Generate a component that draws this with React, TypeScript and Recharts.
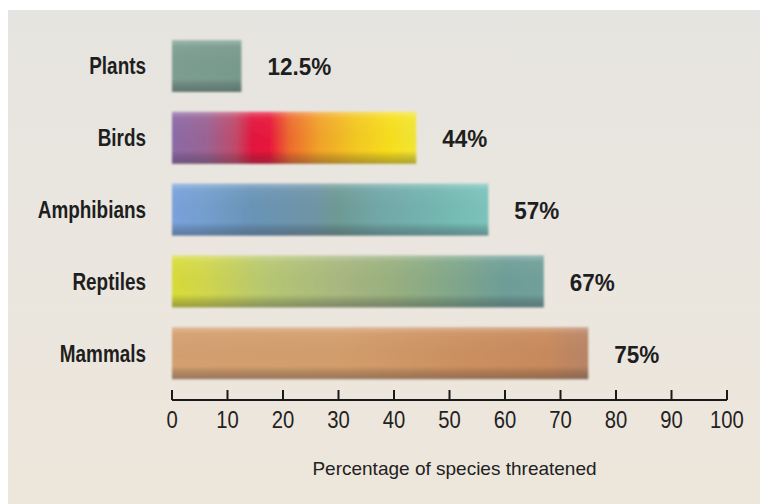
import React from 'react';
import { BarChart, Bar, XAxis, YAxis, Cell, LabelList, Label } from 'recharts';

const categories = ['Plants', 'Birds', 'Amphibians', 'Reptiles', 'Mammals'];
const threatened = [12.5, 44, 57, 67, 75];
const valueLabels = ['12.5%', '44%', '57%', '67%', '75%'];
const xTicks = [0, 10, 20, 30, 40, 50, 60, 70, 80, 90, 100];
const axisTitle = 'Percentage of species threatened';

const data = categories.map((name, i) => ({ name, value: threatened[i], label: valueLabels[i] }));

// horizontal colour ramps, one per bar
const ramps: [number, string][][] = [
    [[0, '#7e9e92'], [100, '#789a8d']],
    [[0, '#8c6aa8'], [14, '#9a6494'], [26, '#c24a6a'], [33, '#e4163e'], [40, '#e8183c'], [48, '#ee6a2e'], [60, '#f2a22a'], [75, '#f4c822'], [90, '#f8e01e'], [100, '#f2e634']],
    [[0, '#7aa2dc'], [10, '#74a0d0'], [25, '#6a94b8'], [45, '#6f95a6'], [52, '#6e9a95'], [65, '#72a8a8'], [85, '#74b8b2'], [100, '#7cc4bc']],
    [[0, '#d8dc38'], [8, '#d2d84a'], [25, '#b8c872'], [45, '#a8b880'], [60, '#98b080'], [75, '#82a88a'], [90, '#6e9e98'], [100, '#72a09c']],
    [[0, '#d4a070'], [40, '#d39e6c'], [70, '#cd9060'], [90, '#c88a5c'], [100, '#b88466']],
];

const sans = "'Liberation Sans', Arial, sans-serif";

const GlossyBar = (props: any) => {
    const { x, y, width, height, fill } = props;
    if (!width || width <= 0) return null;
    return (
        <g filter="url(#soft)">
            <rect x={x} y={y} width={width} height={height} fill={fill} />
            <rect x={x} y={y} width={width} height={height} fill="url(#shade)" />
        </g>
    );
};

const ValueLabel = (props: any) => {
    const vb = props.viewBox || props;
    const { x, y, width, height } = vb;
    return (
        <text
            transform={`translate(${x + width + 26},${y + height / 2 + 1}) scale(1,1.08)`}
            dominantBaseline="central"
            fill="#1e1e1e"
            fontSize={22.5}
            fontWeight={700}
            fontFamily={sans}
        >
            {props.value}
        </text>
    );
};

// squeezed text to mimic the condensed face of the original
const YTick = (props: any) => {
    const { x, y, payload } = props;
    return (
        <text
            transform={`translate(${x},${y}) scale(0.86,1.12)`}
            textAnchor="end"
            dominantBaseline="central"
            fill="#1e1e1e"
            fontSize={22}
            fontWeight={700}
            fontFamily={sans}
        >
            {payload.value}
        </text>
    );
};

const XTick = (props: any) => {
    const { x, y, payload } = props;
    return (
        <g>
            <line x1={x} x2={x} y1={y - 10} y2={y} stroke="#1a1a1a" strokeWidth={2} />
            <text
                transform={`translate(${x},${y + 20}) scale(0.92,1.05)`}
                textAnchor="middle"
                dominantBaseline="central"
                fill="#222"
                fontSize={22}
                fontFamily={sans}
            >
                {payload.value}
            </text>
        </g>
    );
};

const App: React.FC = () => {
    return (
        <div style={{ position: 'fixed', left: 0, top: 0, width: 760, height: 504, background: '#fff', overflow: 'hidden' }}>
            <div
                style={{
                    position: 'absolute',
                    left: 8,
                    top: 10,
                    width: 752,
                    height: 494,
                    background: 'linear-gradient(180deg, #e6e4e0 0%, #eae6df 45%, #ede6db 100%)',
                }}
            />
            <div style={{ position: 'absolute', left: 0, top: 0 }}>
                <BarChart
                    width={760}
                    height={504}
                    data={data}
                    layout="vertical"
                    margin={{ top: 30, right: 33, bottom: 74, left: 0 }}
                >
                    <defs>
                        {ramps.map((stops, i) => (
                            <linearGradient key={i} id={`ramp${i}`} x1="0" y1="0" x2="1" y2="0">
                                {stops.map(([o, c], j) => (
                                    <stop key={j} offset={`${o}%`} stopColor={c} />
                                ))}
                            </linearGradient>
                        ))}
                        <linearGradient id="shade" x1="0" y1="0" x2="0" y2="1">
                            <stop offset="0%" stopColor="#ffffff" stopOpacity={0.3} />
                            <stop offset="12%" stopColor="#ffffff" stopOpacity={0.05} />
                            <stop offset="75%" stopColor="#000000" stopOpacity={0} />
                            <stop offset="100%" stopColor="#3a3a44" stopOpacity={0.38} />
                        </linearGradient>
                        <filter id="soft" x="-5%" y="-10%" width="110%" height="120%">
                            <feGaussianBlur stdDeviation="1" />
                        </filter>
                    </defs>
                    <XAxis
                        type="number"
                        domain={[0, 100]}
                        ticks={xTicks}
                        interval={0}
                        height={30}
                        tickSize={0}
                        tickMargin={0}
                        tickLine={false}
                        axisLine={{ stroke: '#1a1a1a', strokeWidth: 2 }}
                        tick={<XTick />}
                    >
                        <Label
                            value={axisTitle}
                            position="bottom"
                            offset={32}
                            dx={5}
                            fill="#222"
                            fontSize={19}
                            fontFamily={sans}
                        />
                    </XAxis>
                    <YAxis
                        type="category"
                        dataKey="name"
                        width={172}
                        padding={{ top: 0, bottom: 11 }}
                        axisLine={false}
                        tickLine={false}
                        tickSize={0}
                        tickMargin={26}
                        tick={<YTick />}
                    />
                    <Bar dataKey="value" barSize={52} shape={<GlossyBar />} isAnimationActive={false}>
                        {data.map((_, i) => (
                            <Cell key={i} fill={`url(#ramp${i})`} />
                        ))}
                        <LabelList dataKey="label" content={<ValueLabel />} />
                    </Bar>
                </BarChart>
            </div>
        </div>
    );
};

export default App;
